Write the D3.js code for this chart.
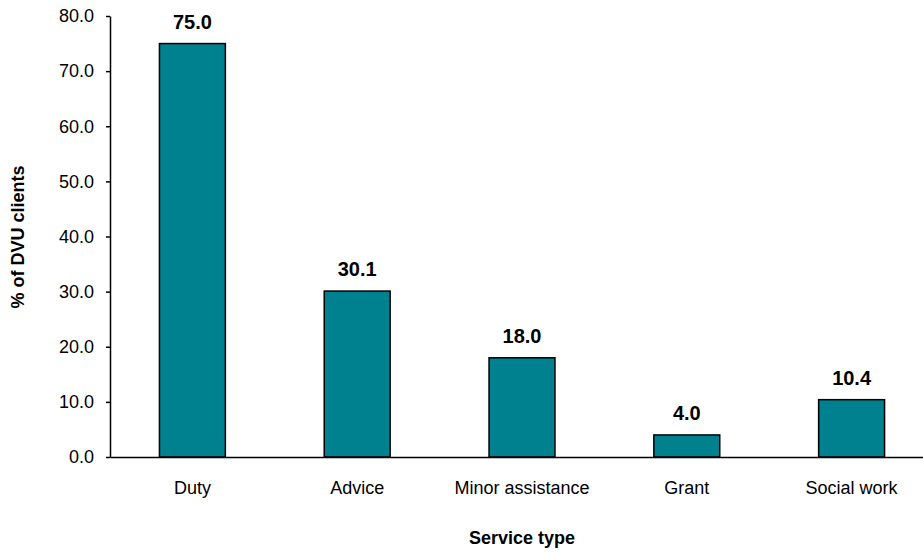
<!DOCTYPE html>
<html>
<head>
<meta charset="utf-8">
<script src="https://cdn.jsdelivr.net/npm/d3@7"></script>
<style>
  html, body { margin: 0; padding: 0; background: #fff; }
  svg { display: block; font-family: "Liberation Sans", Arial, sans-serif; }
</style>
</head>
<body>
<svg id="chart" width="923" height="552"></svg>
<script>
const categories = ["Duty", "Advice", "Minor assistance", "Grant", "Social work"];
const values = [75.0, 30.1, 18.0, 4.0, 10.4];
const yTicks = [0, 10, 20, 30, 40, 50, 60, 70, 80];
const xTitle = "Service type";
const yTitle = "% of DVU clients";

(function () {
const svg = d3.select("#chart");
const mLeft = 110, mRight = 934, mTop = 16, mBottom = 457;
const barColor = "#008190";

const x = d3.scaleBand().domain(categories).range([mLeft, mRight])
  .paddingInner(0.6).paddingOuter(0.3);
const y = d3.scaleLinear().domain([0, 80]).range([mBottom, mTop]);

// Bars
svg.append("g").selectAll("rect").data(values).join("rect")
  .attr("x", (d, i) => x(categories[i]))
  .attr("y", d => y(d))
  .attr("width", x.bandwidth())
  .attr("height", d => y(0) - y(d))
  .attr("fill", barColor)
  .attr("stroke", "#000")
  .attr("stroke-width", 1.5);

// Value labels
svg.append("g").selectAll("text").data(values).join("text")
  .attr("x", (d, i) => x(categories[i]) + x.bandwidth() / 2)
  .attr("y", d => y(d) - 15)
  .attr("text-anchor", "middle")
  .attr("font-size", 20)
  .attr("font-weight", "bold")
  .attr("fill", "#000")
  .text(d => d3.format(".1f")(d));

// Y axis
const yAxis = svg.append("g")
  .attr("transform", `translate(${mLeft},0)`)
  .call(d3.axisLeft(y).tickValues(yTicks).tickFormat(d3.format(".1f"))
    .tickSize(4).tickSizeOuter(0).tickPadding(12));
yAxis.select(".domain").attr("stroke", "#000").attr("stroke-width", 1.5);
yAxis.selectAll(".tick line").attr("stroke", "#000").attr("stroke-width", 1.5);
yAxis.selectAll(".tick text").attr("font-size", 18).attr("fill", "#000")
  .attr("font-family", "Liberation Sans, Arial, sans-serif");

// X axis
const xAxis = svg.append("g")
  .attr("transform", `translate(0,${mBottom})`)
  .call(d3.axisBottom(x).tickSize(0).tickSizeOuter(0));
xAxis.select(".domain").attr("stroke", "#000").attr("stroke-width", 1.5);
xAxis.selectAll(".tick text").attr("font-size", 18).attr("fill", "#000")
  .attr("font-family", "Liberation Sans, Arial, sans-serif")
  .attr("y", 37).attr("dy", 0);

// Axis titles
svg.append("text")
  .attr("x", (mLeft + mRight) / 2).attr("y", 544)
  .attr("text-anchor", "middle")
  .attr("font-size", 18).attr("font-weight", "bold")
  .text(xTitle);

svg.append("text")
  .attr("transform", "translate(24,237) rotate(-90)")
  .attr("text-anchor", "middle")
  .attr("font-size", 18).attr("font-weight", "bold")
  .text(yTitle);
})();
</script>
</body>
</html>
